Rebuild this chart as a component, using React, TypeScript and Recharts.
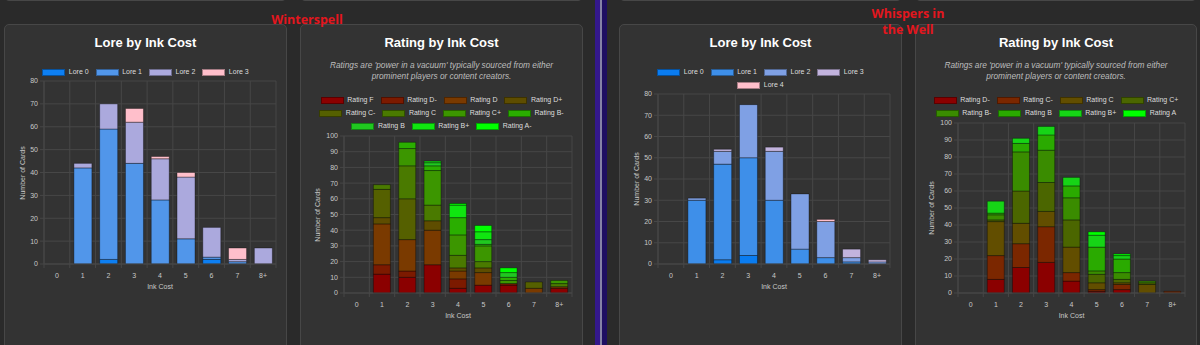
import React from 'react';
import { BarChart, Bar, XAxis, YAxis, CartesianGrid } from 'recharts';

// ---------- shared categories ----------
const inkCosts = ['0', '1', '2', '3', '4', '5', '6', '7', '8+'];

// ---------- Winterspell: Lore by Ink Cost ----------
const wsLoreNames = ['Lore 0', 'Lore 1', 'Lore 2', 'Lore 3'];
const wsLoreColors = ['#0d7ff2', '#5196ea', '#aba9dd', '#ffbfcb'];
const wsLore0 = [0, 0, 2, 0, 0, 0, 2, 0, 0];
const wsLore1 = [0, 42, 57, 44, 28, 11, 1, 1, 0];
const wsLore2 = [0, 2, 11, 18, 18, 27, 13, 1, 7];
const wsLore3 = [0, 0, 0, 6, 1, 2, 0, 5, 0];

// ---------- Winterspell: Rating by Ink Cost ----------
const wsRatingNames = ['Rating F', 'Rating D-', 'Rating D', 'Rating D+', 'Rating C-', 'Rating C', 'Rating C+', 'Rating B-', 'Rating B', 'Rating B+', 'Rating A-'];
const wsRatingColors = ['#8b0000', '#7c1a00', '#7a3a00', '#5e4d00', '#556000', '#4a7a00', '#3c9600', '#2aae00', '#20c820', '#10e610', '#00ff00'];
const wsRatingF = [0, 12, 10, 18, 3, 5, 5, 0, 3];
const wsRatingDm = [0, 6, 4, 0, 6, 0, 1, 0, 0];
const wsRatingD = [0, 26, 20, 22, 5, 8, 0, 3, 1];
const wsRatingDp = [0, 4, 0, 6, 2, 3, 0, 0, 0];
const wsRatingCm = [0, 18, 26, 0, 0, 0, 0, 4, 0];
const wsRatingC = [0, 3, 21, 10, 8, 4, 0, 0, 2];
const wsRatingCp = [0, 0, 11, 22, 13, 10, 2, 0, 2];
const wsRatingBm = [0, 0, 4, 3, 11, 1, 2, 0, 0];
const wsRatingB = [0, 0, 0, 2, 0, 3, 3, 0, 0];
const wsRatingBp = [0, 0, 0, 1, 8, 5, 0, 0, 0];
const wsRatingAm = [0, 0, 0, 0, 1, 4, 3, 0, 0];

// ---------- Whispers in the Well: Lore by Ink Cost ----------
const wwLoreNames = ['Lore 0', 'Lore 1', 'Lore 2', 'Lore 3', 'Lore 4'];
const wwLoreColors = ['#0a7cf0', '#3e8fe9', '#7fa0e4', '#c2b3dd', '#ffbfcb'];
const wwLore0 = [0, 0, 2, 4, 0, 0, 0, 0, 0];
const wwLore1 = [0, 30, 45, 46, 30, 7, 3, 1, 0];
const wwLore2 = [0, 1, 6, 25, 23, 26, 17, 2, 1];
const wwLore3 = [0, 0, 1, 0, 2, 0, 0, 4, 1];
const wwLore4 = [0, 0, 0, 0, 0, 0, 1, 0, 0];

// ---------- Whispers in the Well: Rating by Ink Cost ----------
const wwRatingNames = ['Rating D-', 'Rating C-', 'Rating C', 'Rating C+', 'Rating B-', 'Rating B', 'Rating B+', 'Rating A'];
const wwRatingColors = ['#8b0000', '#7b2700', '#624e00', '#4b6600', '#3a8c00', '#2aaa00', '#16d416', '#00ff00'];
const wwRatingDm = [0, 8, 15, 18, 7, 1, 2, 0, 0];
const wwRatingCm = [0, 14, 14, 21, 5, 1, 3, 0, 1];
const wwRatingC = [0, 20, 12, 9, 15, 4, 1, 5, 0];
const wwRatingCp = [0, 1, 19, 17, 16, 5, 2, 1, 0];
const wwRatingBm = [0, 3, 23, 19, 13, 2, 4, 1, 0];
const wwRatingB = [0, 1, 5, 9, 7, 14, 8, 0, 0];
const wwRatingBp = [0, 7, 3, 5, 5, 7, 2, 0, 0];
const wwRatingA = [0, 0, 0, 0, 0, 2, 1, 0, 0];

// ---------- text ----------
const loreTitle = 'Lore by Ink Cost';
const ratingTitle = 'Rating by Ink Cost';
const ratingNote = ["Ratings are 'power in a vacuum' typically sourced from either", 'prominent players or content creators.'];
const xTitle = 'Ink Cost';
const yTitle = 'Number of Cards';
const setA = ['Winterspell'];
const setB = ['Whispers in', 'the Well'];

// ---------- styling ----------
const FONT = '"Liberation Sans", Arial, Helvetica, sans-serif';
const GRID = '#474747';
const TICK = '#c8c8c8';
const PAGE_BG = '#2a2a2a';
const CARD_BG = '#333333';
const CARD_BORDER = '#474747';
const SEG_STROKE = 'rgba(0,0,0,0.35)';

const Y_AXIS_W = 32;
const X_AXIS_H = 24;
const M_TOP = 6;
const M_RIGHT = 4;

type Series = { name: string; color: string; values: number[] };
type Plot = { left: number; top: number; right: number; bottom: number };

const mkSeries = (names: string[], colors: string[], values: number[][]): Series[] =>
  names.map((n, i) => ({ name: n, color: colors[i], values: values[i] }));

const wsLore = mkSeries(wsLoreNames, wsLoreColors, [wsLore0, wsLore1, wsLore2, wsLore3]);
const wsRating = mkSeries(wsRatingNames, wsRatingColors, [wsRatingF, wsRatingDm, wsRatingD, wsRatingDp, wsRatingCm, wsRatingC, wsRatingCp, wsRatingBm, wsRatingB, wsRatingBp, wsRatingAm]);
const wwLore = mkSeries(wwLoreNames, wwLoreColors, [wwLore0, wwLore1, wwLore2, wwLore3, wwLore4]);
const wwRating = mkSeries(wwRatingNames, wwRatingColors, [wwRatingDm, wwRatingCm, wwRatingC, wwRatingCp, wwRatingBm, wwRatingB, wwRatingBp, wwRatingA]);

function buildRows(series: Series[]) {
  return inkCosts.map((c, i) => {
    const row: Record<string, any> = { cost: c };
    series.forEach((s, k) => {
      row['s' + k] = s.values[i];
    });
    return row;
  });
}

function StackChart({ series, plot, yMax }: { series: Series[]; plot: Plot; yMax: number }) {
  const plotW = plot.right - plot.left;
  const plotH = plot.bottom - plot.top;
  const width = plotW + Y_AXIS_W + M_RIGHT;
  const height = plotH + M_TOP + X_AXIS_H;
  const n = inkCosts.length;
  const band = plotW / n;
  const ticks: number[] = [];
  for (let v = 0; v <= yMax; v += 10) ticks.push(v);
  const data = buildRows(series);

  const renderXTick = (p: any) => {
    const { x, y, payload, index } = p;
    const last = index === n - 1;
    return (
      <g key={'t' + index}>
        <line x1={x - band / 2} x2={x - band / 2} y1={y} y2={y + 4} stroke={GRID} />
        {last && <line x1={x + band / 2} x2={x + band / 2} y1={y} y2={y + 4} stroke={GRID} />}
        <text x={x} y={y + 11} textAnchor="middle" dominantBaseline="central" fill={TICK} fontSize={7} fontFamily={FONT}>
          {payload.value}
        </text>
      </g>
    );
  };

  const vGen = (props: any) => {
    const off = props && props.offset ? props.offset : { left: Y_AXIS_W, width: plotW };
    const w = off.width / n;
    const out: number[] = [];
    for (let i = 0; i <= n; i++) out.push(off.left + i * w);
    return out;
  };

  return (
    <div style={{ position: 'absolute', left: plot.left - Y_AXIS_W, top: plot.top - M_TOP }}>
      <BarChart width={width} height={height} data={data} margin={{ top: M_TOP, right: M_RIGHT, left: 0, bottom: 0 }} barCategoryGap="16%">
        <CartesianGrid stroke={GRID} verticalCoordinatesGenerator={vGen} />
        <XAxis dataKey="cost" interval={0} tickLine={false} tickSize={0} tickMargin={0} axisLine={{ stroke: GRID }} height={X_AXIS_H} tick={renderXTick} />
        <YAxis
          type="number"
          domain={[0, yMax]}
          ticks={ticks}
          interval={0}
          width={Y_AXIS_W}
          tickSize={4}
          tickMargin={2}
          tickLine={{ stroke: GRID }}
          axisLine={{ stroke: GRID }}
          tick={{ fill: TICK, fontSize: 7, fontFamily: FONT }}
        />
        {series.map((s, k) => (
          <Bar key={s.name} dataKey={'s' + k} name={s.name} stackId="a" fill={s.color} stroke={SEG_STROKE} strokeWidth={1} isAnimationActive={false} />
        ))}
      </BarChart>
    </div>
  );
}

function LegendBlock({ series, rows, cardLeft, cardWidth, firstRowY }: { series: Series[]; rows: number[]; cardLeft: number; cardWidth: number; firstRowY: number }) {
  const ROW_H = 13;
  const chunks: Series[][] = [];
  let idx = 0;
  rows.forEach((r) => {
    chunks.push(series.slice(idx, idx + r));
    idx += r;
  });
  return (
    <div style={{ position: 'absolute', left: cardLeft, width: cardWidth, top: firstRowY - ROW_H / 2 }}>
      {chunks.map((row, ri) => (
        <div key={ri} style={{ height: ROW_H, display: 'flex', justifyContent: 'center', alignItems: 'center' }}>
          {row.map((s) => (
            <div key={s.name} style={{ display: 'flex', alignItems: 'center', margin: '0 3.5px' }}>
              <span style={{ display: 'inline-block', width: 23, height: 7, background: s.color, border: '1px solid ' + SEG_STROKE, boxSizing: 'border-box', marginRight: 3.5 }} />
              <span style={{ fontSize: 7, color: '#dddddd', fontFamily: FONT, whiteSpace: 'nowrap', lineHeight: '8px' }}>{s.name}</span>
            </div>
          ))}
        </div>
      ))}
    </div>
  );
}

type CardProps = {
  cardLeft: number;
  cardRight: number;
  title: string;
  note?: string[];
  series: Series[];
  legendRows: number[];
  legendY: number;
  plot: Plot;
  yMax: number;
  yTitleX: number;
  xTitleY: number;
};

function ChartCard(p: CardProps) {
  const cardWidth = p.cardRight - p.cardLeft;
  return (
    <>
      <div style={{ position: 'absolute', left: p.cardLeft, top: 24, width: cardWidth, height: 340, background: CARD_BG, border: '1px solid ' + CARD_BORDER, borderRadius: 5, boxSizing: 'border-box' }} />
      <div style={{ position: 'absolute', left: p.cardLeft, top: -30, width: cardWidth, height: 31, background: CARD_BG, border: '1px solid ' + CARD_BORDER, borderRadius: 5, boxSizing: 'border-box' }} />
      <div style={{ position: 'absolute', left: p.cardLeft, width: cardWidth, top: 35, textAlign: 'center', color: '#ffffff', fontFamily: FONT, fontWeight: 700, fontSize: 13, lineHeight: '16px' }}>{p.title}</div>
      {p.note && (
        <div style={{ position: 'absolute', left: p.cardLeft, width: cardWidth, top: 59.5, textAlign: 'center', color: '#bdbdbd', fontFamily: FONT, fontStyle: 'italic', fontSize: 8.3, lineHeight: '11px' }}>
          {p.note.map((l, i) => (
            <div key={i}>{l}</div>
          ))}
        </div>
      )}
      <LegendBlock series={p.series} rows={p.legendRows} cardLeft={p.cardLeft} cardWidth={cardWidth} firstRowY={p.legendY} />
      <StackChart series={p.series} plot={p.plot} yMax={p.yMax} />
      <div style={{ position: 'absolute', left: p.yTitleX, top: (p.plot.top + p.plot.bottom) / 2, transform: 'translate(-50%, -50%) rotate(-90deg)', color: TICK, fontFamily: FONT, fontSize: 7, whiteSpace: 'nowrap', lineHeight: '8px' }}>{yTitle}</div>
      <div style={{ position: 'absolute', left: (p.plot.left + p.plot.right) / 2, top: p.xTitleY, transform: 'translate(-50%, -50%)', color: TICK, fontFamily: FONT, fontSize: 7, whiteSpace: 'nowrap', lineHeight: '8px' }}>{xTitle}</div>
    </>
  );
}

const redLabel: React.CSSProperties = {
  position: 'absolute',
  color: '#e3161e',
  fontFamily: '"Open Sans", sans-serif',
  fontWeight: 700,
  fontSize: 12.5,
  lineHeight: '16px',
  textAlign: 'center',
  whiteSpace: 'nowrap',
  transform: 'translateX(-50%)',
};

export default function App() {
  return (
    <div style={{ position: 'absolute', left: 0, top: 0, width: 1200, height: 345, overflow: 'hidden', background: PAGE_BG }}>
      <ChartCard cardLeft={4} cardRight={287} title={loreTitle} series={wsLore} legendRows={[4]} legendY={72} plot={{ left: 44, top: 81, right: 276, bottom: 264 }} yMax={80} yTitleX={23} xTitleY={287} />
      <ChartCard cardLeft={300} cardRight={583} title={ratingTitle} note={ratingNote} series={wsRating} legendRows={[4, 4, 3]} legendY={100.3} plot={{ left: 344, top: 136, right: 572, bottom: 293 }} yMax={100} yTitleX={318} xTitleY={315.7} />
      <ChartCard cardLeft={619} cardRight={902} title={loreTitle} series={wwLore} legendRows={[4, 1]} legendY={72} plot={{ left: 658, top: 94, right: 890, bottom: 264 }} yMax={80} yTitleX={637} xTitleY={287} />
      <ChartCard cardLeft={915} cardRight={1197} title={ratingTitle} note={ratingNote} series={wwRating} legendRows={[4, 4]} legendY={100.3} plot={{ left: 958, top: 123, right: 1185, bottom: 293 }} yMax={100} yTitleX={932} xTitleY={315.7} />

      {/* divider between the two sets */}
      <div style={{ position: 'absolute', left: 595, top: 0, width: 5, height: 345, background: '#34188c' }} />
      <div style={{ position: 'absolute', left: 600, top: 0, width: 2, height: 345, background: '#8583a6' }} />
      <div style={{ position: 'absolute', left: 602, top: 0, width: 5, height: 345, background: '#1e0f62' }} />

      <div style={{ ...redLabel, left: 307, top: 12 }}>
        {setA.map((l) => (
          <div key={l}>{l}</div>
        ))}
      </div>
      <div style={{ ...redLabel, left: 908, top: 6 }}>
        {setB.map((l) => (
          <div key={l}>{l}</div>
        ))}
      </div>
    </div>
  );
}
